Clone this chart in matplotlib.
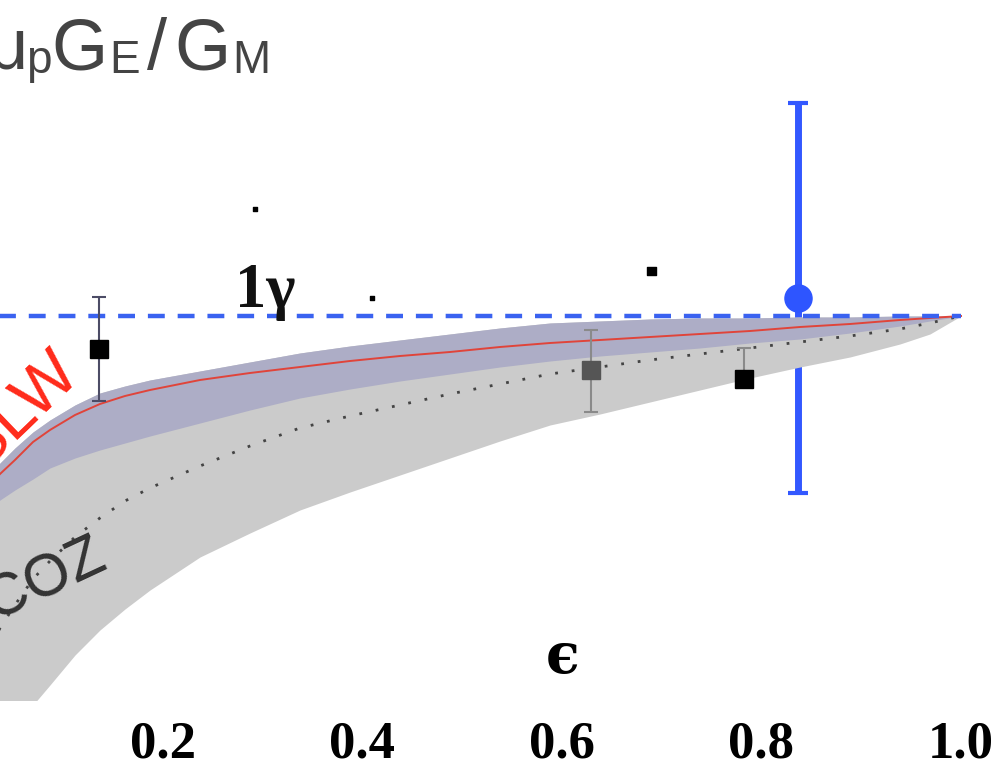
import matplotlib
matplotlib.use("Agg")
import matplotlib.pyplot as plt

# ---------------- data ----------------
eps = [0.031, 0.0366, 0.0516, 0.0697, 0.0867, 0.1118, 0.1368, 0.1619, 0.1870,
       0.2371, 0.2872, 0.3373, 0.3875, 0.4376, 0.4877, 0.5378, 0.5880, 0.6381,
       0.6882, 0.7383, 0.7885, 0.8386, 0.8887, 0.9388, 0.9689, 1.000]

slw_mid = [0.918, 0.921, 0.928, 0.937, 0.943, 0.9505, 0.956, 0.960, 0.963,
           0.968, 0.9715, 0.9745, 0.9775, 0.980, 0.982, 0.9845, 0.9865, 0.988,
           0.9895, 0.991, 0.9925, 0.9945, 0.996, 0.998, 0.999, 1.000]
slw_hi = [0.923, 0.9265, 0.934, 0.942, 0.948, 0.9555, 0.9615, 0.965, 0.968,
          0.9725, 0.977, 0.9815, 0.985, 0.988, 0.991, 0.994, 0.9965, 0.9975,
          0.9985, 0.999, 0.999, 0.9995, 0.9995, 1.000, 1.000, 1.000]
slw_lo = [0.905, 0.908, 0.913, 0.9185, 0.924, 0.929, 0.933, 0.9365, 0.940,
          0.9465, 0.953, 0.959, 0.9635, 0.9675, 0.971, 0.9745, 0.9775, 0.980,
          0.982, 0.984, 0.9865, 0.9885, 0.9915, 0.995, 0.9975, 1.000]
coz_mid = [0.838, 0.844, 0.8555, 0.8685, 0.8775, 0.8895, 0.899, 0.9075, 0.914,
           0.925, 0.935, 0.944, 0.950, 0.9555, 0.961, 0.966, 0.971, 0.9745,
           0.978, 0.981, 0.984, 0.987, 0.990, 0.9935, 0.9965, 1.000]
coz_lo = [0.7755, 0.782, 0.793, 0.8055, 0.8155, 0.8305, 0.843, 0.8535, 0.863,
          0.8795, 0.8915, 0.903, 0.912, 0.9205, 0.929, 0.9375, 0.9455, 0.951,
          0.957, 0.963, 0.969, 0.9745, 0.9795, 0.986, 0.991, 1.000]

one_gamma_x = [0.031, 1.000]
one_gamma_y = [1.0, 1.0]

# black / grey square data points
sq_x = [0.136, 0.629, 0.7825]
sq_y = [0.9835, 0.973, 0.9685]
sq_err_lo = [0.026, 0.021, 0.0]
sq_err_hi = [0.026, 0.020, 0.0155]
sq_colors = ['#000000', '#555555', '#000000']
sq_ecolors = ['#4c4c66', '#8a8a8a', '#8a8a8a']

# new blue point
new_x = [0.837]
new_y = [1.00925]
new_err = [0.0975]

# small stray marks
stray_x = [0.2922, 0.690, 0.4095]
stray_y = [1.0535, 1.0225, 1.009]
stray_s = [10, 40, 8]

xticks = [0.2, 0.4, 0.6, 0.8, 1.0]
xtick_labels = ['0.2', '0.4', '0.6', '0.8', '1.0']

# ---------------- figure ----------------
W, H = 997, 777
fig = plt.figure(figsize=(W / 100, H / 100), dpi=100)
ax = fig.add_axes([0, 77 / H, 1, 700 / H])
ax.set_xlim(0.0366, 1.0361)
ax.set_ylim(0.808, 1.158)
for s in ax.spines.values():
    s.set_visible(False)
ax.set_yticks([])
ax.set_xticks(xticks)
ax.set_xticklabels(xtick_labels)
ax.tick_params(axis='x', length=0, pad=15)
for lab in ax.get_xticklabels():
    lab.set_fontfamily('Liberation Serif')
    lab.set_fontweight('bold')
    lab.set_fontsize(38)

# blue error bar (below bands)
ax.errorbar(new_x, new_y, yerr=new_err, fmt='none', ecolor='#3358ff',
            elinewidth=5, capsize=7, capthick=3, zorder=1)

# bands
ax.fill_between(eps, coz_lo, slw_hi, color='#cbcbcb', lw=0, zorder=2)
ax.fill_between(eps, slw_lo, slw_hi, color='#adadc6', lw=0, zorder=3)
ax.plot(eps, coz_mid, color='#444444', lw=2, ls=(0, (1, 5)), zorder=4)
ax.plot(eps, slw_mid, color='#e0443a', lw=1.4, zorder=4)

# 1 gamma dashed line
ax.plot(one_gamma_x, one_gamma_y, color='#3a62f0', lw=3.2,
        dashes=(3.8, 2.9), zorder=5)

# square points
for x, y, lo, hi, c, ec in zip(sq_x, sq_y, sq_err_lo, sq_err_hi, sq_colors, sq_ecolors):
    ax.errorbar([x], [y], yerr=[[lo], [hi]], fmt='s', color=c, ecolor=ec,
                ms=13, elinewidth=1.5, capsize=5, capthick=1.5, zorder=6)

# blue marker
ax.plot(new_x, new_y, 'o', color='#2e55ff', ms=19.5, zorder=7)

ax.scatter(stray_x, stray_y, s=stray_s, marker='s', color='k', zorder=6)


def px(x, y):
    return x / W, 1 - y / H


# labels
fig.text(*px(235, 307), '1γ', family='Liberation Serif', weight='bold',
         fontsize=45, ha='left', va='baseline', color='#111111')
fig.text(*px(563, 658), 'ϵ', family='DejaVu Serif', weight='bold',
         fontsize=40, ha='center', va='center', color='#000000')
fig.text(*px(20, 412), 'SLW', family='Liberation Sans', fontsize=48,
         rotation=44, rotation_mode='anchor', ha='center', va='center',
         color='#ff2a1a')
fig.text(*px(45, 580), 'COZ', family='Liberation Sans', fontsize=43,
         rotation=25, rotation_mode='anchor', ha='center', va='center',
         color='#333333')

# title pieces
tc = '#444444'
big, small = 52, 33
fig.text(*px(28, 69), 'μ', family='Liberation Sans', fontsize=big, ha='right',
         va='baseline', color=tc)
fig.text(*px(26, 73), 'p', family='Liberation Sans', fontsize=small, ha='left',
         va='baseline', color=tc)
fig.text(*px(51, 69), 'G', family='Liberation Sans', fontsize=big, ha='left',
         va='baseline', color=tc)
fig.text(*px(109, 73), 'E', family='Liberation Sans', fontsize=small, ha='left',
         va='baseline', color=tc)
fig.text(*px(147, 69), '/', family='Liberation Sans', fontsize=big, ha='left',
         va='baseline', color=tc)
fig.text(*px(174, 69), 'G', family='Liberation Sans', fontsize=big, ha='left',
         va='baseline', color=tc)
fig.text(*px(232, 73), 'M', family='Liberation Sans', fontsize=small, ha='left',
         va='baseline', color=tc)

fig.savefig('out.png', dpi=100)
